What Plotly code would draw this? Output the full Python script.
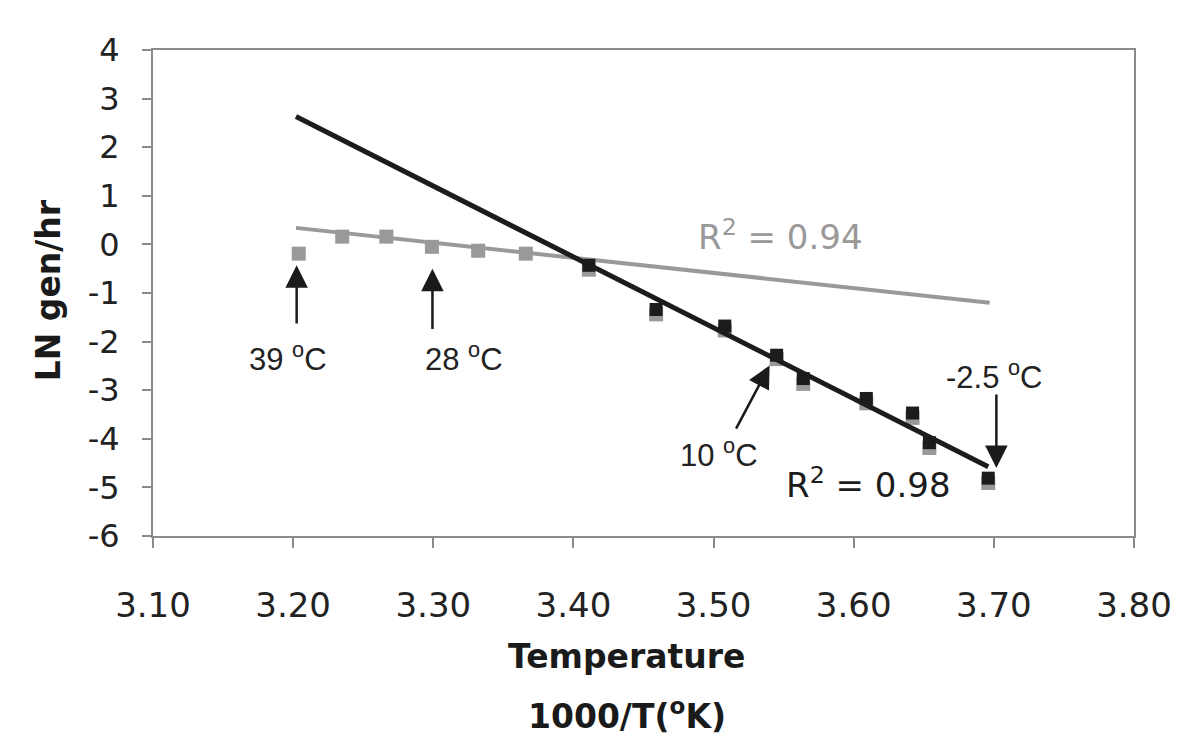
import plotly.graph_objects as go

# ---- data ----
inv_temp = [3.204, 3.235, 3.2665, 3.299, 3.332, 3.366, 3.411, 3.459,
            3.508, 3.545, 3.564, 3.609, 3.642, 3.654, 3.696]
ln_rate_all = [-0.19, 0.16, 0.16, -0.05, -0.13, -0.19, -0.52, -1.44,
               -1.77, -2.36, -2.87, -3.27, -3.57, -4.19, -4.91]
inv_temp_cold = [3.411, 3.459, 3.508, 3.545, 3.564, 3.609, 3.642, 3.654, 3.696]
ln_rate_cold = [-0.43, -1.34, -1.68, -2.28, -2.76, -3.17, -3.47, -4.08, -4.81]

fit_all_x = [3.202, 3.697]
fit_all_y = [0.34, -1.20]
fit_cold_x = [3.202, 3.696]
fit_cold_y = [2.63, -4.575]

x_ticks = [3.10, 3.20, 3.30, 3.40, 3.50, 3.60, 3.70, 3.80]
y_ticks = [4, 3, 2, 1, 0, -1, -2, -3, -4, -5, -6]

GRAY = "#999999"
BLACK = "#1c1c1c"
AXIS = "#8a8a8a"

fig = go.Figure()
fig.add_trace(go.Scatter(x=fit_all_x, y=fit_all_y, mode="lines",
                         line=dict(color=GRAY, width=4), showlegend=False))
fig.add_trace(go.Scatter(x=inv_temp, y=ln_rate_all, mode="markers",
                         marker=dict(symbol="square", size=14, color=GRAY),
                         showlegend=False))
fig.add_trace(go.Scatter(x=inv_temp_cold, y=ln_rate_cold, mode="markers",
                         marker=dict(symbol="square", size=13, color=BLACK),
                         showlegend=False))
fig.add_trace(go.Scatter(x=fit_cold_x, y=fit_cold_y, mode="lines",
                         line=dict(color=BLACK, width=5), showlegend=False))

ann_font = dict(family="Liberation Sans, Arial", size=31, color="#222222")
annotations = []

# arrows (head -> tail in data coords)
arrows = [
    (3.2025, -0.43, 3.2025, -1.66),
    (3.2994, -0.50, 3.2994, -1.77),
    (3.540, -2.49, 3.5155, -3.82),
    (3.7018, -4.60, 3.7018, -3.06),
]
for hx, hy, tx, ty in arrows:
    annotations.append(dict(x=hx, y=hy, ax=tx, ay=ty, xref="x", yref="y",
                            axref="x", ayref="y", text="", showarrow=True,
                            arrowhead=2, arrowsize=1.8, arrowwidth=2.5,
                            arrowcolor="#1a1a1a"))

labels = [
    (3.1965, -2.32, "39 <sup>o</sup>C"),
    (3.3218, -2.32, "28 <sup>o</sup>C"),
    (3.5040, -4.29, "10 <sup>o</sup>C"),
    (3.6999, -2.69, "-2.5 <sup>o</sup>C"),
]
for lx, ly, t in labels:
    annotations.append(dict(x=lx, y=ly, xref="x", yref="y", text=t,
                            showarrow=False, font=ann_font,
                            xanchor="center", yanchor="middle"))

annotations.append(dict(x=3.5475, y=0.20, xref="x", yref="y",
                        text="R<sup>2</sup> = 0.94", showarrow=False,
                        font=dict(family="DejaVu Sans", size=34, color=GRAY),
                        xanchor="center", yanchor="middle"))
annotations.append(dict(x=3.6106, y=-4.90, xref="x", yref="y",
                        text="R<sup>2</sup> = 0.98", showarrow=False,
                        font=dict(family="DejaVu Sans", size=34, color=BLACK),
                        xanchor="center", yanchor="middle"))

title_font = dict(family="DejaVu Sans", size=33, color="#1a1a1a")
annotations.append(dict(x=0.483, y=-0.2487, xref="paper", yref="paper",
                        text="<b>Temperature</b>", showarrow=False,
                        font=title_font, xanchor="center", yanchor="middle"))
annotations.append(dict(x=0.483, y=-0.368, xref="paper", yref="paper",
                        text="<b>1000/T(<sup>o</sup>K)</b>", showarrow=False,
                        font=title_font, xanchor="center", yanchor="middle"))
annotations.append(dict(x=-0.107, y=0.5056, xref="paper", yref="paper",
                        text="<b>LN gen/hr</b>", showarrow=False, textangle=-90,
                        font=title_font, xanchor="center", yanchor="middle"))

fig.update_layout(
    width=1200, height=736,
    margin=dict(l=153, r=66, t=50, b=200),
    paper_bgcolor="white", plot_bgcolor="white",
    annotations=annotations,
    xaxis=dict(range=[3.10, 3.80], tickvals=x_ticks,
               ticktext=[f"{v:.2f}" for v in x_ticks],
               showgrid=False, zeroline=False, showline=True, mirror=True,
               linecolor=AXIS, linewidth=2, ticks="outside", ticklen=10,
               tickcolor=AXIS, tickwidth=1.5,
               tickfont=dict(family="DejaVu Sans", size=34, color="#222222"),
               ticklabelstandoff=28, automargin=False),
    yaxis=dict(range=[-6, 4], tickvals=y_ticks,
               ticktext=[str(v) for v in y_ticks],
               showgrid=False, zeroline=False, showline=True, mirror=True,
               linecolor=AXIS, linewidth=2, ticks="outside", ticklen=9,
               tickcolor=AXIS, tickwidth=1.5,
               tickfont=dict(family="DejaVu Sans", size=32, color="#222222"),
               ticklabelstandoff=16, automargin=False),
)

fig.write_html("out.html",
               config={"displayModeBar": False},
               post_script="document.body.style.margin='0px';"
                           "document.body.style.overflow='hidden';")
